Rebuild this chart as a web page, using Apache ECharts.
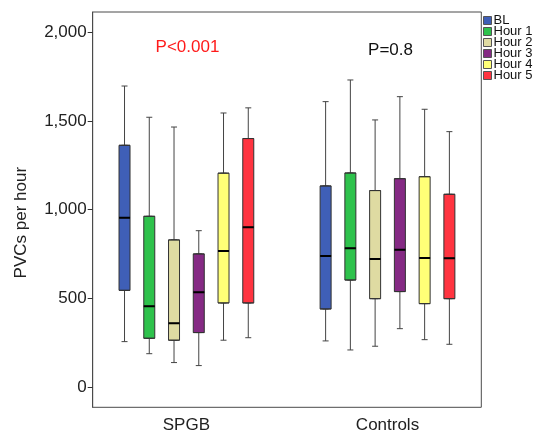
<!DOCTYPE html>
<html><head><meta charset="utf-8">
<script src="https://cdn.jsdelivr.net/npm/echarts@6/dist/echarts.min.js"></script>
<style>html,body{margin:0;padding:0;background:#fff}#c{width:538px;height:436px}</style>
</head><body><div id="c"></div>
<script>
// ---- data ----
const seriesNames = ['BL', 'Hour 1', 'Hour 2', 'Hour 3', 'Hour 4', 'Hour 5'];
const groups = ['SPGB', 'Controls'];
const yTicks = [0, 500, 1000, 1500, 2000];
const pLabels = ['P<0.001', 'P=0.8'];

const spgbLow    = [257, 189, 139, 122, 265, 279];
const spgbQ1     = [546, 276, 265, 308, 475, 475];
const spgbMedian = [955, 456, 360, 535, 768, 901];
const spgbQ3     = [1363, 963, 830, 751, 1206, 1401];
const spgbHigh   = [1697, 1521, 1466, 882, 1545, 1574];

const ctrlLow    = [261, 210, 231, 330, 268, 242];
const ctrlQ1     = [441, 604, 499, 539, 471, 499];
const ctrlMedian = [740, 783, 723, 775, 728, 727];
const ctrlQ3     = [1134, 1207, 1108, 1175, 1186, 1087];
const ctrlHigh   = [1609, 1731, 1506, 1637, 1566, 1440];

// ---- styling ----
const colors = ['#3F5FB7', '#2EC24C', '#DFDBA2', '#852A84', '#FFFF77', '#FF3440'];
const FONT = "'Liberation Sans', Arial, Helvetica, sans-serif";
const yMin = -113, yMax = 2114;
const T = 12, B = 436 - 407.3;
const frameLeft = 92.7, frameRight = 538 - 481.3;
const bandW = 179.3;
const groupCenters = [186.4, 387.5];

const stats = [
  {low: spgbLow, q1: spgbQ1, med: spgbMedian, q3: spgbQ3, high: spgbHigh},
  {low: ctrlLow, q1: ctrlQ1, med: ctrlMedian, q3: ctrlQ3, high: ctrlHigh}
];

const grid = [{left: frameLeft, right: frameRight, top: T, bottom: B, show: true, borderColor: '#4a4a4a', borderWidth: 1, backgroundColor: 'transparent'}];
groupCenters.forEach(c => grid.push({left: c - bandW / 2, width: bandW, top: T, bottom: B}));

const xAxis = [{gridIndex: 0, type: 'category', data: [''], show: false}];
const yAxis = [{
  gridIndex: 0, type: 'value', min: yMin, max: yMax,
  axisLine: {show: true, lineStyle: {color: '#4a4a4a', width: 1}},
  axisTick: {show: true, length: 5, customValues: yTicks, lineStyle: {color: '#333', width: 1}},
  axisLabel: {customValues: yTicks, margin: 6, fontSize: 17, color: '#222', fontFamily: FONT,
    formatter: v => Number(v).toLocaleString('en-US')},
  splitLine: {show: false},
  name: 'PVCs per hour', nameLocation: 'middle', nameGap: 63,
  nameTextStyle: {fontSize: 17, color: '#222', fontFamily: FONT, padding: [0, 26, 0, 0]}
}];
groups.forEach((g, gi) => {
  yAxis.push({gridIndex: gi + 1, type: 'value', min: yMin, max: yMax, show: false, splitLine: {show: false}});
  for (let L = 0; L < 3; L++) {
    xAxis.push({
      gridIndex: gi + 1, type: 'category', data: [g], show: L === 0,
      axisLine: {show: false}, axisTick: {show: false}, splitLine: {show: false},
      axisLabel: {fontSize: 17, color: '#222', fontFamily: FONT, margin: 10}
    });
  }
});

const boxes = [], whiskers = [], medians = [];
groups.forEach((g, gi) => {
  const s = stats[gi];
  const xBase = 1 + gi * 3;
  seriesNames.forEach((name, i) => {
    boxes.push({
      type: 'boxplot', name, xAxisIndex: xBase, yAxisIndex: gi + 1, z: 3, silent: true,
      boxWidth: [11, 11],
      itemStyle: {color: colors[i], borderColor: '#333', borderWidth: 1},
      data: [[s.q1[i], s.q1[i], s.med[i], s.q3[i], s.q3[i]]]
    });
    whiskers.push({
      type: 'boxplot', name, xAxisIndex: xBase + 1, yAxisIndex: gi + 1, z: 2, silent: true,
      boxWidth: [6, 6],
      itemStyle: {color: 'transparent', borderColor: '#444', borderWidth: 1},
      data: [[s.low[i], s.q1[i], s.med[i], s.q3[i], s.high[i]]]
    });
    medians.push({
      type: 'boxplot', name, xAxisIndex: xBase + 2, yAxisIndex: gi + 1, z: 4, silent: true,
      boxWidth: [11, 11],
      itemStyle: {color: 'transparent', borderColor: '#000', borderWidth: 2},
      data: [[s.med[i], s.med[i], s.med[i], s.med[i], s.med[i]]]
    });
  });
});

const chart = echarts.init(document.getElementById('c'), null, {renderer: 'canvas'});
chart.setOption({
  animation: false,
  backgroundColor: '#fff',
  textStyle: {fontFamily: FONT},
  grid, xAxis, yAxis,
  legend: {
    data: seriesNames.map((n, i) => ({name: n, itemStyle: {color: colors[i], borderColor: '#555', borderWidth: 1}})),
    orient: 'vertical', left: 483, top: 14, padding: 0,
    itemWidth: 8, itemHeight: 8, itemGap: -2, icon: 'rect',
    textStyle: {fontSize: 13, color: '#111', fontFamily: FONT, lineHeight: 11.2, padding: [0, 0, 0, -3]},
    selectedMode: false
  },
  graphic: [
    {type: 'text', x: 187.5, y: 47.5, silent: true,
      style: {text: pLabels[0], fill: '#FF1A1A', font: '17px ' + FONT, align: 'center', verticalAlign: 'middle'}},
    {type: 'text', x: 390.5, y: 50, silent: true,
      style: {text: pLabels[1], fill: '#111', font: '17px ' + FONT, align: 'center', verticalAlign: 'middle'}}
  ],
  series: boxes.concat(whiskers, medians)
});
</script></body></html>
